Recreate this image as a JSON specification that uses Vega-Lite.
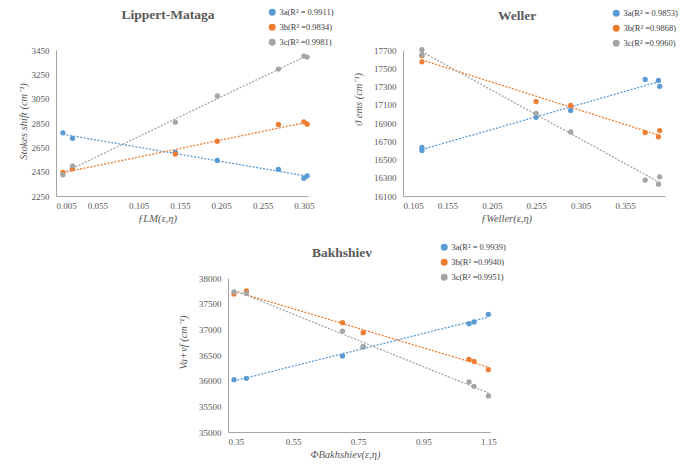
{
  "$schema": "https://vega.github.io/schema/vega-lite/v6.json",
  "background": "white",
  "padding": {"left": 18, "top": 7, "right": 2, "bottom": 2},
  "datasets": {
    "lm": [
      {"x": 0.0134, "y": 2769, "s": "3a(R² = 0.9911)"},
      {"x": 0.025, "y": 2724, "s": "3a(R² = 0.9911)"},
      {"x": 0.1494, "y": 2609, "s": "3a(R² = 0.9911)"},
      {"x": 0.2002, "y": 2542, "s": "3a(R² = 0.9911)"},
      {"x": 0.2742, "y": 2468, "s": "3a(R² = 0.9911)"},
      {"x": 0.305, "y": 2396, "s": "3a(R² = 0.9911)"},
      {"x": 0.309, "y": 2416, "s": "3a(R² = 0.9911)"},
      {"x": 0.0134, "y": 2443, "s": "3b(R² =0.9834)"},
      {"x": 0.025, "y": 2475, "s": "3b(R² =0.9834)"},
      {"x": 0.1494, "y": 2595, "s": "3b(R² =0.9834)"},
      {"x": 0.2002, "y": 2700, "s": "3b(R² =0.9834)"},
      {"x": 0.2742, "y": 2838, "s": "3b(R² =0.9834)"},
      {"x": 0.305, "y": 2860, "s": "3b(R² =0.9834)"},
      {"x": 0.309, "y": 2840, "s": "3b(R² =0.9834)"},
      {"x": 0.0134, "y": 2424, "s": "3c(R² =0.9981)"},
      {"x": 0.025, "y": 2498, "s": "3c(R² =0.9981)"},
      {"x": 0.1494, "y": 2857, "s": "3c(R² =0.9981)"},
      {"x": 0.2002, "y": 3072, "s": "3c(R² =0.9981)"},
      {"x": 0.2742, "y": 3293, "s": "3c(R² =0.9981)"},
      {"x": 0.305, "y": 3400, "s": "3c(R² =0.9981)"},
      {"x": 0.309, "y": 3392, "s": "3c(R² =0.9981)"}
    ],
    "weller": [
      {"x": 0.1263, "y": 16632, "s": "3a(R² = 0.9853)"},
      {"x": 0.1263, "y": 16600, "s": "3a(R² = 0.9853)"},
      {"x": 0.2548, "y": 16962, "s": "3a(R² = 0.9853)"},
      {"x": 0.2938, "y": 17038, "s": "3a(R² = 0.9853)"},
      {"x": 0.3777, "y": 17378, "s": "3a(R² = 0.9853)"},
      {"x": 0.3926, "y": 17367, "s": "3a(R² = 0.9853)"},
      {"x": 0.394, "y": 17302, "s": "3a(R² = 0.9853)"},
      {"x": 0.1263, "y": 17570, "s": "3b(R² =0.9868)"},
      {"x": 0.1263, "y": 17638, "s": "3b(R² =0.9868)"},
      {"x": 0.2548, "y": 17135, "s": "3b(R² =0.9868)"},
      {"x": 0.2938, "y": 17092, "s": "3b(R² =0.9868)"},
      {"x": 0.3777, "y": 16795, "s": "3b(R² =0.9868)"},
      {"x": 0.3926, "y": 16748, "s": "3b(R² =0.9868)"},
      {"x": 0.394, "y": 16817, "s": "3b(R² =0.9868)"},
      {"x": 0.1263, "y": 17704, "s": "3c(R² =0.9960)"},
      {"x": 0.1263, "y": 17649, "s": "3c(R² =0.9960)"},
      {"x": 0.2548, "y": 17005, "s": "3c(R² =0.9960)"},
      {"x": 0.2938, "y": 16802, "s": "3c(R² =0.9960)"},
      {"x": 0.3777, "y": 16274, "s": "3c(R² =0.9960)"},
      {"x": 0.3926, "y": 16230, "s": "3c(R² =0.9960)"},
      {"x": 0.394, "y": 16310, "s": "3c(R² =0.9960)"}
    ],
    "bakh": [
      {"x": 0.3685, "y": 36019, "s": "3a(R² = 0.9939)"},
      {"x": 0.4064, "y": 36045, "s": "3a(R² = 0.9939)"},
      {"x": 0.7018, "y": 36480, "s": "3a(R² = 0.9939)"},
      {"x": 0.7654, "y": 36656, "s": "3a(R² = 0.9939)"},
      {"x": 1.0905, "y": 37110, "s": "3a(R² = 0.9939)"},
      {"x": 1.1059, "y": 37143, "s": "3a(R² = 0.9939)"},
      {"x": 1.15, "y": 37292, "s": "3a(R² = 0.9939)"},
      {"x": 0.3685, "y": 37690, "s": "3b(R² =0.9940)"},
      {"x": 0.4064, "y": 37747, "s": "3b(R² =0.9940)"},
      {"x": 0.7018, "y": 37130, "s": "3b(R² =0.9940)"},
      {"x": 0.7654, "y": 36935, "s": "3b(R² =0.9940)"},
      {"x": 1.0905, "y": 36415, "s": "3b(R² =0.9940)"},
      {"x": 1.1059, "y": 36377, "s": "3b(R² =0.9940)"},
      {"x": 1.15, "y": 36214, "s": "3b(R² =0.9940)"},
      {"x": 0.3685, "y": 37727, "s": "3c(R² =0.9951)"},
      {"x": 0.4064, "y": 37701, "s": "3c(R² =0.9951)"},
      {"x": 0.7018, "y": 36967, "s": "3c(R² =0.9951)"},
      {"x": 0.7654, "y": 36669, "s": "3c(R² =0.9951)"},
      {"x": 1.0905, "y": 35976, "s": "3c(R² =0.9951)"},
      {"x": 1.1059, "y": 35890, "s": "3c(R² =0.9951)"},
      {"x": 1.15, "y": 35702, "s": "3c(R² =0.9951)"}
    ]
  },
  "center": true,
  "spacing": 19,
  "resolve": {"scale": {"color": "independent", "x": "independent", "y": "independent"}, "legend": {"color": "independent"}},
  "vconcat": [
    {
      "spacing": 18,
      "resolve": {"scale": {"color": "independent", "x": "independent", "y": "independent"}, "legend": {"color": "independent"}},
      "hconcat": [
        {
          "width": 252,
          "height": 146,
          "title": {"text": "Lippert-Mataga", "dx": -14, "frame": "group", "offset": -13},
          "data": {"name": "lm"},
          "encoding": {
            "x": {"field": "x", "type": "quantitative", "scale": {"domain": [0.005, 0.31], "zero": false, "nice": false},
                  "axis": {"title": "ƒLM(ε,η)", "values": [0.005, 0.055, 0.105, 0.155, 0.205, 0.255, 0.305], "format": ".3f", "titleX": 101, "titlePadding": 3}},
            "y": {"field": "y", "type": "quantitative", "scale": {"domain": [2250, 3450], "zero": false, "nice": false},
                  "axis": {"title": "Stokes shift (cm⁻¹)", "values": [2250, 2450, 2650, 2850, 3050, 3250, 3450], "format": "d", "titleX": -33, "titleY": 71, "titleBaseline": "middle", "labelPadding": 7}},
            "color": {"field": "s", "type": "nominal",
                      "scale": {"domain": ["3a(R² = 0.9911)", "3b(R² =0.9834)", "3c(R² =0.9981)"], "range": ["#5B9BD5", "#ED7D31", "#A5A5A5"]},
                      "legend": {"title": null, "orient": "none", "legendX": 212, "legendY": -42}}
          },
          "layer": [
            {"transform": [{"regression": "y", "on": "x", "groupby": ["s"]}], "mark": {"type": "line", "strokeDash": [2, 1.5], "strokeWidth": 1.3}},
            {"mark": {"type": "circle", "size": 28, "opacity": 1}}
          ]
        },
        {
          "width": 262,
          "height": 146,
          "title": {"text": "Weller", "dx": -17, "frame": "group", "offset": -13},
          "data": {"name": "weller"},
          "encoding": {
            "x": {"field": "x", "type": "quantitative", "scale": {"domain": [0.105, 0.4], "zero": false, "nice": false},
                  "axis": {"title": "ƒWeller(ε,η)", "values": [0.105, 0.155, 0.205, 0.255, 0.305, 0.355], "format": ".3f", "titleX": 103, "titlePadding": 3}},
            "y": {"field": "y", "type": "quantitative", "scale": {"domain": [16100, 17700], "zero": false, "nice": false},
                  "axis": {"title": "ϑ ems (cm⁻¹)", "values": [16100, 16300, 16500, 16700, 16900, 17100, 17300, 17500, 17700], "format": "d", "titleX": -45, "titleY": 49, "titleBaseline": "middle", "labelPadding": 7}},
            "color": {"field": "s", "type": "nominal",
                      "scale": {"domain": ["3a(R² = 0.9853)", "3b(R² =0.9868)", "3c(R² =0.9960)"], "range": ["#5B9BD5", "#ED7D31", "#A5A5A5"]},
                      "legend": {"title": null, "orient": "none", "legendX": 209, "legendY": -41}}
          },
          "layer": [
            {"transform": [{"regression": "y", "on": "x", "groupby": ["s"]}], "mark": {"type": "line", "strokeDash": [2, 1.5], "strokeWidth": 1.3}},
            {"mark": {"type": "circle", "size": 28, "opacity": 1}}
          ]
        }
      ]
    },
    {
      "width": 262,
      "height": 154,
      "title": {"text": "Bakhshiev", "dx": -17, "frame": "group", "offset": -16},
      "data": {"name": "bakh"},
      "encoding": {
        "x": {"field": "x", "type": "quantitative", "scale": {"domain": [0.35, 1.155], "zero": false, "nice": false},
              "axis": {"title": "ΦBakhshiev(ε,η)", "values": [0.35, 0.55, 0.75, 0.95, 1.15], "format": ".2f", "titleX": 117, "titlePadding": 3}},
        "y": {"field": "y", "type": "quantitative", "scale": {"domain": [35000, 38000], "zero": false, "nice": false},
              "axis": {"title": "Va+vf (cm⁻¹)", "values": [35000, 35500, 36000, 36500, 37000, 37500, 38000], "format": "d", "titleX": -45, "titleY": 64, "titleBaseline": "middle", "labelPadding": 7}},
        "color": {"field": "s", "type": "nominal",
                  "scale": {"domain": ["3a(R² = 0.9939)", "3b(R² =0.9940)", "3c(R² =0.9951)"], "range": ["#5B9BD5", "#ED7D31", "#A5A5A5"]},
                  "legend": {"title": null, "orient": "none", "legendX": 212, "legendY": -35}}
      },
      "layer": [
        {"transform": [{"regression": "y", "on": "x", "groupby": ["s"]}], "mark": {"type": "line", "strokeDash": [2, 1.5], "strokeWidth": 1.3}},
        {"mark": {"type": "circle", "size": 28, "opacity": 1}}
      ]
    }
  ],
  "config": {
    "view": {"stroke": null},
    "axis": {"grid": false, "ticks": false, "domainColor": "#A6A6A6", "domainWidth": 1, "labelFont": "Liberation Serif", "labelFontSize": 9, "labelColor": "#595959", "labelPadding": 5, "titleFont": "Liberation Serif", "titleFontSize": 10.5, "titleFontStyle": "italic", "titleFontWeight": "normal", "titleColor": "#595959"},
    "legend": {"padding": 0, "symbolType": "circle", "symbolSize": 30, "labelFont": "Liberation Serif", "labelFontSize": 8.5, "labelColor": "#404040", "rowPadding": 3, "labelOffset": 3},
    "title": {"font": "Liberation Serif", "fontSize": 13.5, "fontWeight": "bold", "color": "#595959", "anchor": "middle"}
  }
}
